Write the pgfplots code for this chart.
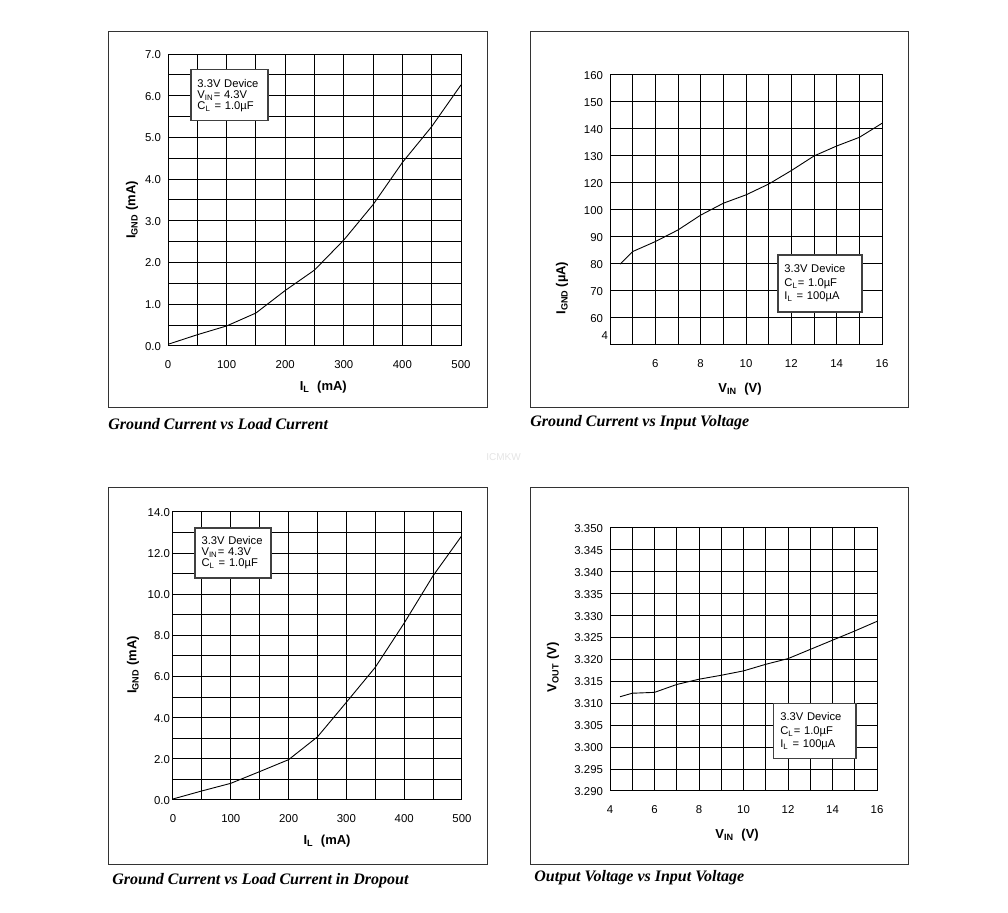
\documentclass[border=0pt]{standalone}
\usepackage{fontspec}
\setmainfont{Liberation Sans}
\newfontfamily\capfont{Liberation Serif}
\usepackage{pgfplots}
\pgfplotsset{compat=1.18}

% one style for the four datasheet panels
\pgfplotsset{
  sheet/.style={
    scale only axis, anchor=south west,
    axis line style={line width=0.5pt},
    grid=both,
    major grid style={line width=0.5pt, black},
    minor grid style={line width=0.5pt, black},
    major tick length=0pt, minor tick length=0pt,
    tick label style={font=\fontsize{5.7}{6}\selectfont},
    typeset ticklabels with strut,
    xticklabel shift=3.5pt,
    yticklabel style={yshift=-1pt},
    label style={font=\bfseries\fontsize{6.5}{7}\selectfont, anchor=center},
    scaled ticks=false,
    /pgf/number format/assume math mode=true,
  },
  curve/.style={black, line width=0.45pt, no marks},
}
\tikzset{
  note/.style={draw=black!75, line width=0.8pt, fill=white, anchor=north west,
    align=left, inner ysep=0pt},
}

\begin{document}
\begin{tikzpicture}
\path[use as bounding box, fill=white] (0,0) rectangle (504pt,456.5pt);

% panel frames
\draw[line width=0.5pt, black!80] (54pt,252.5pt) rectangle (243.5pt,440.5pt);
\draw[line width=0.5pt, black!80] (265pt,252.5pt) rectangle (454pt,440.5pt);
\draw[line width=0.5pt, black!80] (54pt,24pt) rectangle (243.5pt,212.5pt);
\draw[line width=0.5pt, black!80] (265pt,24pt) rectangle (454pt,212.5pt);

% ---- Ground Current vs Load Current
\begin{axis}[sheet, at={(84pt,283.5pt)}, width=146.5pt, height=146pt,
  xmin=0, xmax=500, ymin=0, ymax=7,
  xtick={0,100,200,300,400,500}, minor xtick={50,150,250,350,450},
  ytick={0,1,2,3,4,5,6,7}, minor ytick={0.5,1.5,2.5,3.5,4.5,5.5,6.5},
  yticklabel style={/pgf/number format/fixed, /pgf/number format/fixed zerofill,
    /pgf/number format/precision=1},
  xlabel={I\textsubscript{L}\ \ (mA)}, ylabel={I\textsubscript{GND} (mA)},
  xlabel style={at={(axis description cs:0.53,-0.14)}},
  ylabel style={at={(axis description cs:-0.123,0.466)}}]
\addplot[curve] coordinates {
  (0,0.04) (50,0.27) (100,0.48) (150,0.79) (200,1.33) (250,1.82)
  (300,2.54) (350,3.39) (400,4.40) (450,5.26) (500,6.26)};
\node[note, text width=32pt, minimum height=25.5pt, font=\fontsize{5.6}{5.5}\selectfont]
  at (rel axis cs:0.075,0.949)
  {3.3V Device\\V\textsubscript{IN}= 4.3V\\C\textsubscript{L} = 1.0µF};
\end{axis}

% ---- Ground Current vs Input Voltage
\begin{axis}[sheet, at={(305pt,284pt)}, width=136pt, height=135pt,
  xmin=4, xmax=16, ymin=60, ymax=160,
  xtick={6,8,10,12,14,16}, minor xtick={5,7,9,11,13,15},
  ytick={70,80,90,100,110,120,130,140,150,160},
  yticklabels={60,70,80,90,100,120,130,140,150,160},
  extra y ticks={63.7}, extra y tick labels={4},
  extra y tick style={grid=none, yticklabel style={xshift=2.5pt}},
  xlabel={V\textsubscript{IN}\ \ (V)}, ylabel={I\textsubscript{GND}\,(µA)},
  xlabel style={at={(axis description cs:0.478,-0.163)}},
  ylabel style={at={(axis description cs:-0.176,0.211)}}]
\addplot[curve] coordinates {
  (4.45,90.0) (5,94.6) (6,98.3) (7,102.6) (8,108.1) (9,112.5) (10,115.6)
  (11,119.6) (12,124.6) (13,130.0) (14,133.7) (15,136.9) (16,142.1)};
\node[note, text width=35.5pt, minimum height=28.5pt, font=\fontsize{5.6}{6.8}\selectfont]
  at (rel axis cs:0.614,0.337)
  {3.3V Device\\C\textsubscript{L}= 1.0µF\\I\textsubscript{L} = 100µA};
\end{axis}

% ---- Ground Current vs Load Current in Dropout
\begin{axis}[sheet, at={(86.5pt,56.5pt)}, width=144.5pt, height=144pt,
  xmin=0, xmax=500, ymin=0, ymax=14,
  xtick={0,100,200,300,400,500}, minor xtick={50,150,250,350,450},
  ytick={0,2,4,6,8,10,12,14}, minor ytick={1,3,5,7,9,11,13},
  yticklabel style={/pgf/number format/fixed, /pgf/number format/fixed zerofill,
    /pgf/number format/precision=1, xshift=2pt},
  xlabel={I\textsubscript{L}\ \ (mA)}, ylabel={I\textsubscript{GND} (mA)},
  xlabel style={at={(axis description cs:0.533,-0.142)}},
  ylabel style={at={(axis description cs:-0.138,0.469)}}]
\addplot[curve] coordinates {
  (0,0.05) (50,0.44) (100,0.81) (150,1.38) (200,1.96) (250,3.07)
  (300,4.75) (350,6.45) (400,8.60) (450,10.90) (500,12.86)};
\node[note, text width=31.5pt, minimum height=25pt, font=\fontsize{5.6}{5.5}\selectfont]
  at (rel axis cs:0.073,0.948)
  {3.3V Device\\V\textsubscript{IN}= 4.3V\\C\textsubscript{L} = 1.0µF};
\end{axis}

% ---- Output Voltage vs Input Voltage
\begin{axis}[sheet, at={(305pt,61pt)}, width=133.5pt, height=131.5pt,
  xmin=4, xmax=16, ymin=3.290, ymax=3.350,
  xtick={4,6,8,10,12,14,16}, minor xtick={5,7,9,11,13,15},
  ytick={3.290,3.295,3.300,3.305,3.310,3.315,3.320,3.325,3.330,3.335,3.340,3.345,3.350},
  yticklabel style={/pgf/number format/fixed, /pgf/number format/fixed zerofill,
    /pgf/number format/precision=3},
  xlabel={V\textsubscript{IN}\ \ (V)}, ylabel={V\textsubscript{OUT} (V)},
  xlabel style={at={(axis description cs:0.476,-0.167)}},
  ylabel style={at={(axis description cs:-0.213,0.471)}}]
\addplot[curve] coordinates {
  (4.45,3.3115) (5,3.3123) (6,3.3125) (7,3.3143) (8,3.3155) (9,3.3164)
  (10,3.3174) (11,3.3189) (12,3.3202) (13,3.3223) (14,3.3244) (15,3.3265)
  (16,3.3287)};
\node[note, text width=34.5pt, minimum height=27.5pt, font=\fontsize{5.6}{6.8}\selectfont]
  at (rel axis cs:0.610,0.335)
  {3.3V Device\\C\textsubscript{L}= 1.0µF\\I\textsubscript{L} = 100µA};
\end{axis}

% captions
\begin{scope}[every node/.style={anchor=west, inner sep=0pt,
    font=\capfont\bfseries\itshape\fontsize{8}{9}\selectfont}]
\node at (54pt,244.5pt) {Ground Current vs Load Current};
\node at (265pt,245pt) {Ground Current vs Input Voltage};
\node at (56pt,16pt) {Ground Current vs Load Current in Dropout};
\node at (267pt,17.5pt) {Output Voltage vs Input Voltage};
\end{scope}
\node[text=black!10, inner sep=0pt, font=\fontsize{5}{5}\selectfont] at (251.75pt,228pt) {ICMKW};
\end{tikzpicture}
\end{document}
